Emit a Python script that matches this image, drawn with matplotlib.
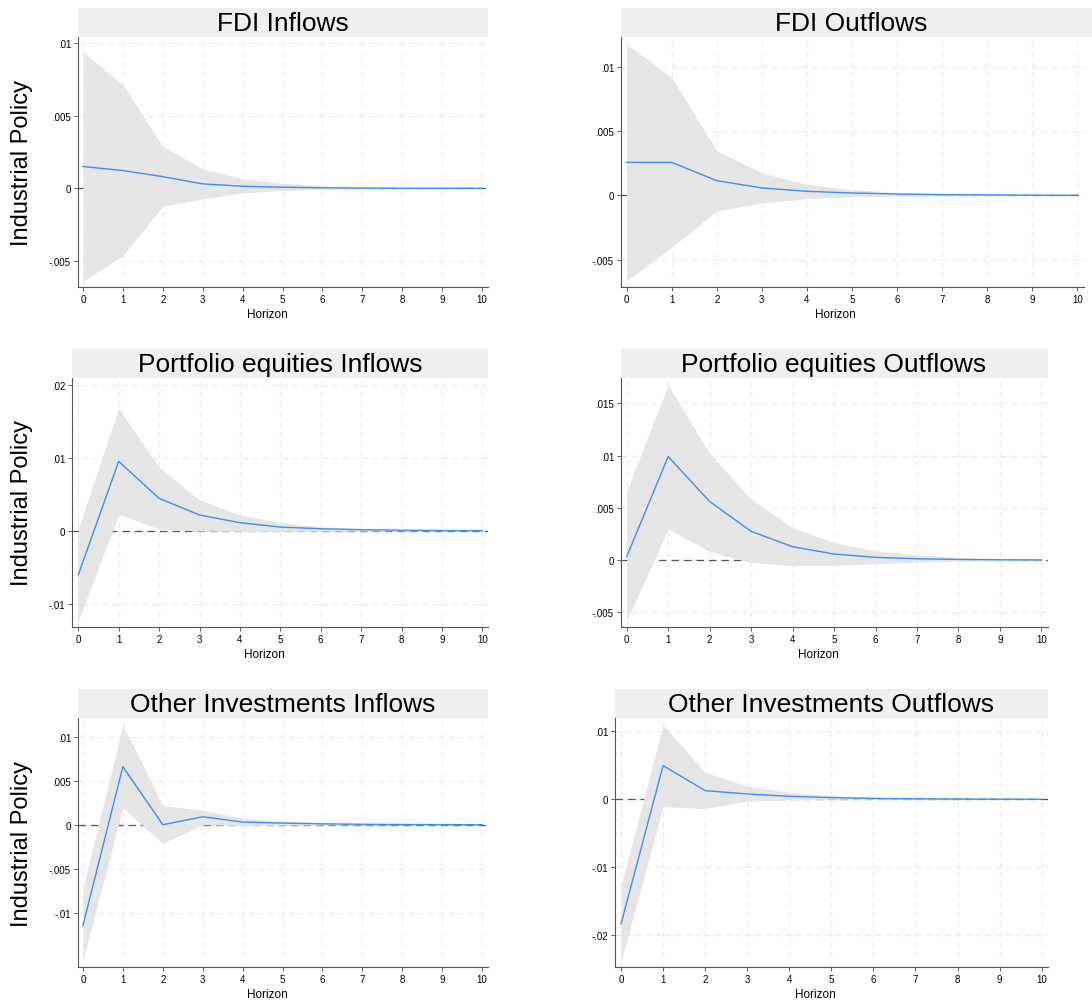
import matplotlib
matplotlib.use('Agg')
import matplotlib.pyplot as plt
from matplotlib.patches import Rectangle

plt.rcParams['font.family'] = ['Liberation Sans', 'DejaVu Sans']

horizon = list(range(11))

# impulse responses to an industrial policy shock, with confidence bands
fdi_in_irf = [0.0015, 0.00122, 0.0008, 0.0003, 0.00014, 0.00007, 0.00003, 0.00001, 0.0, 0.0, 0.0]
fdi_in_hi = [0.0094, 0.00714, 0.00288, 0.00134, 0.00065, 0.00035, 0.00018, 0.0001, 0.00005, 0.00003, 0.00001]
fdi_in_lo = [-0.00643, -0.00465, -0.00124, -0.00074, -0.00032, -0.00016, -0.00008, -0.00004, -0.00002, -0.00001, 0.0]

fdi_out_irf = [0.00256, 0.00256, 0.00114, 0.00057, 0.00031, 0.00018, 0.0001, 0.00005, 0.00003, 0.00001, 0.0]
fdi_out_hi = [0.01176, 0.00917, 0.00347, 0.00174, 0.00085, 0.00044, 0.00023, 0.00013, 0.00007, 0.00004, 0.00002]
fdi_out_lo = [-0.00668, -0.00404, -0.00122, -0.0006, -0.00026, -0.00012, -0.00005, -0.00002, -0.00001, 0.0, 0.0]

peq_in_irf = [-0.00603, 0.0095, 0.00443, 0.00215, 0.0011, 0.0005, 0.00027, 0.00014, 0.00007, 0.00003, 0.00001]
peq_in_hi = [0.0003, 0.01676, 0.00868, 0.00425, 0.00215, 0.0011, 0.00055, 0.00027, 0.00013, 0.00006, 0.00003]
peq_in_lo = [-0.01233, 0.00224, 0.00023, -0.00005, -0.0001, -0.0001, -0.00007, -0.00004, -0.00002, -0.00001, 0.0]

peq_out_irf = [0.00032, 0.0099, 0.0056, 0.00274, 0.00127, 0.00057, 0.00025, 0.00012, 0.00005, 0.00002, 0.00001]
peq_out_hi = [0.00662, 0.01675, 0.0102, 0.00583, 0.00309, 0.00166, 0.00089, 0.00048, 0.00025, 0.00012, 0.00006]
peq_out_lo = [-0.0058, 0.00296, 0.00083, -0.00025, -0.00054, -0.0005, -0.00038, -0.0002, -0.0001, -0.00005, -0.00002]

oth_in_irf = [-0.01143, 0.0066, 0.0, 0.0009, 0.0003, 0.00019, 0.0001, 0.00005, 0.00002, 0.00001, 0.0]
oth_in_hi = [-0.0072, 0.0113, 0.00215, 0.00166, 0.00072, 0.00038, 0.0002, 0.0001, 0.00005, 0.00002, 0.00001]
oth_in_lo = [-0.0154, 0.00192, -0.00215, 0.0, -0.0001, -0.00005, -0.00003, -0.00002, -0.00001, 0.0, 0.0]

oth_out_irf = [-0.01833, 0.00495, 0.00127, 0.00078, 0.00044, 0.00025, 0.00013, 0.00007, 0.00004, 0.00002, 0.00001]
oth_out_hi = [-0.0127, 0.01093, 0.00397, 0.00191, 0.00103, 0.00054, 0.00028, 0.00015, 0.00008, 0.00004, 0.00002]
oth_out_lo = [-0.02387, -0.00108, -0.00137, -0.00025, -0.00005, 0.0, 0.0, 0.0, 0.0, 0.0, 0.0]

titles = ['FDI Inflows', 'FDI Outflows',
          'Portfolio equities Inflows', 'Portfolio equities Outflows',
          'Other Investments Inflows', 'Other Investments Outflows']
yticks = [[-0.005, 0, 0.005, 0.01], [-0.005, 0, 0.005, 0.01],
          [-0.01, 0, 0.01, 0.02], [-0.005, 0, 0.005, 0.01, 0.015],
          [-0.01, -0.005, 0, 0.005, 0.01], [-0.02, -0.01, 0, 0.01]]
series = [(fdi_in_irf, fdi_in_hi, fdi_in_lo), (fdi_out_irf, fdi_out_hi, fdi_out_lo),
          (peq_in_irf, peq_in_hi, peq_in_lo), (peq_out_irf, peq_out_hi, peq_out_lo),
          (oth_in_irf, oth_in_hi, oth_in_lo), (oth_out_irf, oth_out_hi, oth_out_lo)]

# layout in pixels: plot box (left, top, right, bottom), x range, y range, title strip right edge
boxes = [(78, 38.3, 488, 287.7), (621, 38.3, 1084, 287.7),
         (72, 379.3, 488, 627.7), (621, 379.3, 1048, 627.7),
         (78, 719.3, 488, 968.3), (615, 719.3, 1048, 968.3)]
xlims = [(-0.125, 10.15), (-0.126, 10.15), (-0.156, 10.14),
         (-0.138, 10.16), (-0.125, 10.15), (-0.143, 10.15)]
ylims = [(-0.00679, 0.01041), (-0.00711, 0.01229), (-0.01315, 0.02088),
         (-0.00639, 0.0174), (-0.0162, 0.01209), (-0.02471, 0.01191)]
strip_right = [488, 1092, 488, 1048, 488, 1048]
title_center = [283, 851.5, 280, 834, 283, 831]
strip_h = 29.3

W, H = 1092, 1003
fig = plt.figure(figsize=(W / 100, H / 100), dpi=100)
fig.patch.set_facecolor('white')


def ylab(v):
    if v == 0:
        return '0'
    s = f'{v:g}'
    return s.replace('0.', '.')


for i in range(6):
    l, t, r, b = boxes[i]
    ax = fig.add_axes([l / W, 1 - b / H, (r - l) / W, (b - t) / H])
    irf, hi, lo = series[i]

    ax.axhline(0, color='#555555', lw=0.9, ls=(0, (6, 4)), zorder=1)
    ax.fill_between(horizon, lo, hi, color='#e5e5e5', lw=0, zorder=2)
    ax.plot(horizon, irf, color='#3a8ff0', lw=1.0, zorder=3)

    ax.set_xlim(*xlims[i])
    ax.set_ylim(*ylims[i])
    ax.set_xticks(horizon)
    ax.set_yticks(yticks[i])
    ax.set_yticklabels([ylab(v) for v in yticks[i]])
    ax.tick_params(labelsize=7, length=3, width=0.6, color='#444444', pad=2)
    ax.grid(True, color='#ebebeb', lw=0.8, ls=(0, (5, 4)))
    ax.set_axisbelow(True)
    for side in ['top', 'right']:
        ax.spines[side].set_visible(False)
    for side in ['left', 'bottom']:
        ax.spines[side].set_color('#555555')
        ax.spines[side].set_linewidth(0.8)

    ax.set_xlabel('Horizon', fontsize=8.5)
    ax.xaxis.set_label_coords(0.462, -21 / (b - t))

    # grey title strip above each panel
    fig.patches.append(Rectangle((l / W, 1 - t / H), (strip_right[i] - l) / W, strip_h / H,
                                 transform=fig.transFigure, color='#efefef', lw=0, zorder=0))
    fig.text(title_center[i] / W, 1 - (t - strip_h / 2) / H, titles[i], fontsize=19,
             ha='center', va='center')

    if i % 2 == 0:
        fig.text(22 / W, 1 - (t + b) / 2 / H, 'Industrial Policy', fontsize=17,
                 rotation=90, ha='center', va='center')

fig.savefig('out.png', dpi=100)
